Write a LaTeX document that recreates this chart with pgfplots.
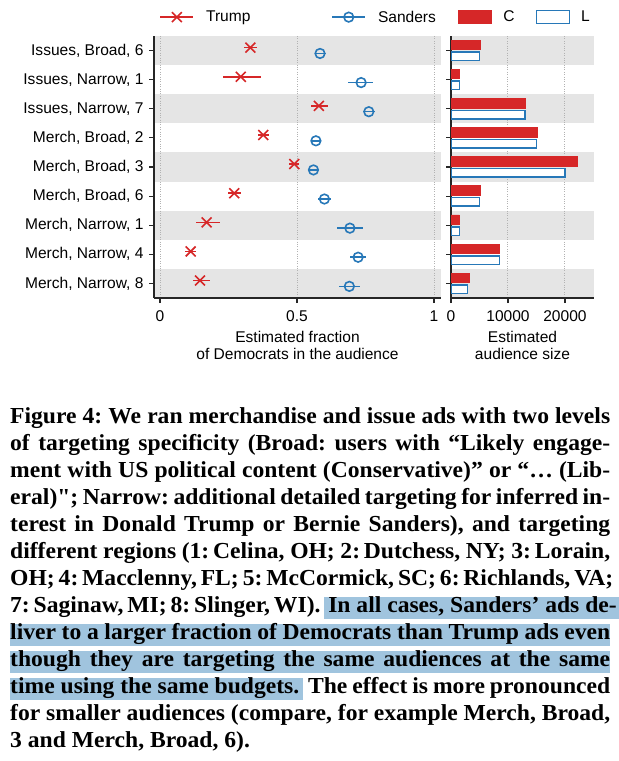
\documentclass[border=0pt]{standalone}
\usepackage{pgfplots}
\pgfplotsset{compat=1.18}
\usepackage{pgfplotstable}
\usepackage{fontspec}
\setmainfont{Liberation Sans}
\newfontfamily\capfont{Liberation Serif}[Ligatures=TeXOff, FakeStretch=1.03]

\definecolor{tred}{RGB}{214,39,40}
\definecolor{sblue}{RGB}{39,120,184}
\definecolor{band}{RGB}{229,229,229}
\definecolor{hl}{RGB}{160,196,222}
\newcommand\lbl{\fontsize{15.6}{17}\selectfont}

% row: 1 Issues,Broad,6 / 2 Issues,Narrow,1 / 3 Issues,Narrow,7 / 4 Merch,Broad,2
%      5 Merch,Broad,3 / 6 Merch,Broad,6 / 7 Merch,Narrow,1 / 8 Merch,Narrow,4 / 9 Merch,Narrow,8
\pgfplotstableread{
row x     em    ep
1   0.330 0.025 0.025
2   0.295 0.065 0.074
3   0.580 0.030 0.032
4   0.377 0.020 0.020
5   0.490 0.018 0.018
6   0.271 0.024 0.024
7   0.170 0.040 0.049
8   0.112 0.021 0.021
9   0.146 0.027 0.036
}\trump
\pgfplotstableread{
row x     em    ep
1   0.584 0.020 0.020
2   0.734 0.047 0.044
3   0.762 0.022 0.022
4   0.569 0.018 0.018
5   0.560 0.018 0.018
6   0.600 0.024 0.024
7   0.693 0.046 0.047
8   0.723 0.029 0.029
9   0.691 0.037 0.039
}\sanders
\pgfplotstableread{
row c     l
1   5090  4970
2   1460  1500
3   13100 13030
4   15140 15030
5   22160 20050
6   5090  4970
7   1460  1500
8   8420  8480
9   3160  2870
}\audience

\pgfplotsset{
  panel/.style={
    scale only axis, height=262bp, anchor=south west,
    ymin=0.5, ymax=9.5, y dir=reverse,
    axis x line*=bottom, axis y line*=left,
    axis line style={-, draw=black!85, line width=1.1bp},
    tick style={draw=black!85, line width=1.1bp},
    tick align=outside, major tick length=5bp,
    ytick={1,...,9},
    xmajorgrids,
    major grid style={draw=black!30, dotted, line width=1bp},
    tick label style={font=\lbl},
    xticklabel style={yshift=-4bp},
    yticklabel style={xshift=-2bp},
    xlabel style={font=\lbl, align=center, at={(axis description cs:0.5,0)},
      anchor=north, yshift=-33.5bp, inner sep=0pt},
    scaled x ticks=false,
    set layers,
  },
  longline legend/.style={legend image code/.code={%
    \draw[mark repeat=2, mark phase=2, ##1] plot coordinates {(0bp,0bp) (16.5bp,0bp) (33bp,0bp)};}},
  box legend/.style={legend image code/.code={%
    \draw[##1] (0bp,-6.5bp) rectangle (33bp,6.5bp);}},
}
% grey bands behind rows 1,3,5,7,9; #1,#2 = xmin,xmax of the panel
\newcommand\shadebands[2]{%
  \pgfplotsinvokeforeach{1,3,5,7,9}{
    \addplot[forget plot, draw=none, fill=band, on layer=axis background]
      coordinates {(#1,##1-0.5) (#2,##1-0.5) (#2,##1+0.5) (#1,##1+0.5)};
  }%
}
\newcommand\hlbox[1]{{\setlength\fboxsep{0pt}\colorbox{hl}{\rule[-6.5bp]{0pt}{21.5bp}#1}}}
\newcommand\capline[1]{\makebox[600bp][s]{#1}\par}

\begin{document}
\begin{tikzpicture}
\path (0,0) rectangle (619bp,-761bp);

% left panel: fraction of Democrats
\begin{axis}[panel, at={(154bp,-298bp)}, width=287bp,
  xmin=-0.0219, xmax=1.0255,
  xtick={0,0.5,1}, xticklabels={0,0.5,1},
  yticklabels={{Issues, Broad, 6},{Issues, Narrow, 1},{Issues, Narrow, 7},
    {Merch, Broad, 2},{Merch, Broad, 3},{Merch, Broad, 6},
    {Merch, Narrow, 1},{Merch, Narrow, 4},{Merch, Narrow, 8}},
  xlabel={Estimated fraction\\of Democrats in the audience},
  legend columns=4, legend cell align=left,
  legend style={at={(0.0185,1.072)}, anchor=west,
    draw=none, fill=none, inner sep=0pt, font=\lbl, nodes={inner sep=0pt},
    /tikz/column 1/.style={column sep=12bp},
    /tikz/column 2/.style={column sep=81bp},
    /tikz/column 3/.style={column sep=12bp},
    /tikz/column 4/.style={column sep=22bp},
    /tikz/column 5/.style={column sep=11.5bp},
    /tikz/column 6/.style={column sep=21bp},
    /tikz/column 7/.style={column sep=11bp}},
]
\shadebands{-0.0219}{1.0255}
\addlegendimage{longline legend, tred, line width=1.6bp, mark=x, mark size=7bp}
\addlegendentry{Trump}
\addlegendimage{longline legend, sblue, line width=1.6bp, mark=o, mark size=4.8bp}
\addlegendentry{Sanders}
\addlegendimage{box legend, fill=tred, draw=tred, line width=1bp}
\addlegendentry{C}
\addlegendimage{box legend, fill=white, draw=sblue, line width=1.5bp}
\addlegendentry{L}

\addplot[forget plot, only marks, tred, mark=x, mark size=7bp, mark options={line width=1.6bp},
  error bars/.cd, x dir=both, x explicit, error mark=none,
  error bar style={line width=1.6bp, tred}]
  table[x=x, y expr=\thisrow{row}-0.1, x error plus=ep, x error minus=em] {\trump};
\addplot[forget plot, only marks, sblue, mark=o, mark size=4.8bp, mark options={line width=1.6bp},
  error bars/.cd, x dir=both, x explicit, error mark=none,
  error bar style={line width=1.6bp, sblue}]
  table[x=x, y expr=\thisrow{row}+0.1, x error plus=ep, x error minus=em] {\sanders};
\end{axis}

% right panel: audience size
\begin{axis}[panel, at={(451bp,-298bp)}, width=143bp,
  xmin=0, xmax=25100,
  xtick={0,10000,20000}, xticklabels={0,10000,20000},
  yticklabels={},
  xlabel={Estimated\\audience size},
]
\shadebands{0}{25100}
\addplot[xbar, bar width=9.5bp, bar shift=0pt, fill=tred, draw=tred, line width=0.8bp]
  table[x=c, y expr=\thisrow{row}-0.19] {\audience};
\addplot[xbar, bar width=8.5bp, bar shift=0pt, fill=white, draw=sblue, line width=1.5bp]
  table[x=l, y expr=\thisrow{row}+0.2] {\audience};
\end{axis}

% caption
\node[anchor=base west, inner sep=0pt] at (10bp,-423.3bp) {\parbox[t]{600bp}{%
  \capfont\bfseries\fontsize{23}{27.15}\selectfont\frenchspacing
  \capline{Figure 4: We ran merchandise and issue ads with two levels}
  \capline{of targeting specificity (Broad: users with “Likely engage-}
  \capline{ment with US political content (Conservative)” or “… (Lib-}
  \capline{eral)"; Narrow: additional detailed targeting for inferred in-}
  \capline{terest in Donald Trump or Bernie Sanders), and targeting}
  \capline{different regions (1:\,Celina, OH; 2:\,Dutchess, NY; 3:\,Lorain,}
  \capline{OH; 4:\,Macclenny, FL; 5:\,McCormick, SC; 6:\,Richlands, VA;}
  \capline{7:\,Saginaw, MI; 8:\,Slinger, WI). \hlbox{\,In all cases, Sanders’ ads de-\,}}
  \hlbox{\makebox[600bp][s]{liver to a larger fraction of Democrats than Trump ads even}}\par
  \hlbox{\makebox[600bp][s]{though they are targeting the same audiences at the same}}\par
  \capline{\hlbox{time using the same budgets.\,} The effect is more pronounced}
  \capline{for smaller audiences (compare, for example Merch, Broad,}
  3 and Merch, Broad, 6).\par}};
\end{tikzpicture}
\end{document}
